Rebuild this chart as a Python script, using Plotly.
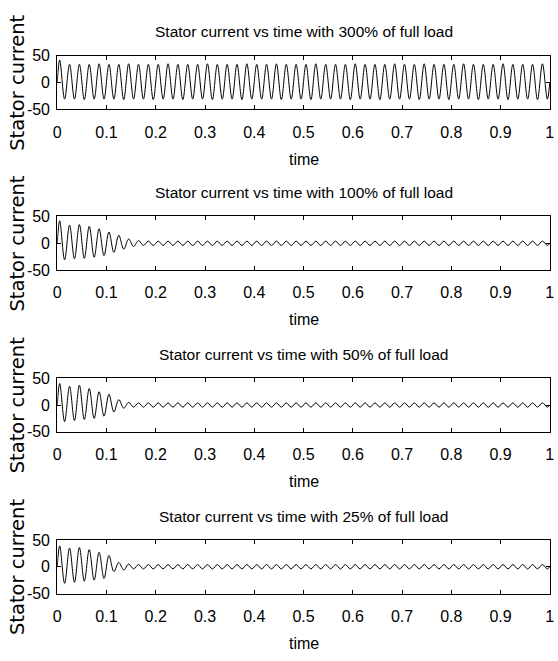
import plotly.graph_objects as go

# ---------------- data ----------------
load_labels = ["300%", "100%", "50%", "25%"]

# half-cycle extreme values of the 50 Hz stator current (one per 0.01 s, at t = 0.005 + 0.01k)
current_300 = [
    42, -31, 34, -31, 34, -32, 34, -31, 35, -31,
    34, -31, 34, -32, 35, -31, 34, -31, 34, -32,
    34, -31, 35, -31, 34, -32, 34, -31, 34, -31,
    35, -32, 34, -31, 34, -31, 34, -32, 35, -31,
    34, -31, 34, -31, 35, -32, 34, -31, 34, -31,
    34, -32, 35, -31, 34, -31, 34, -31, 34, -32,
    35, -31, 34, -31, 34, -32, 34, -31, 35, -31,
    34, -31, 34, -32, 35, -31, 34, -31, 34, -32,
    34, -31, 35, -31, 34, -32, 34, -31, 34, -31,
    35, -32, 34, -31, 34, -31, 34, -32, 35, -31,
]
current_100 = [
    42, -31, 34, -29, 35, -28, 32, -26, 27, -23,
    21, -17, 15, -11, 8, -6, 5, -4, 4, -4,
    4, -4, 4, -4, 4, -4, 4, -4, 4, -4,
    4, -4, 4, -4, 4, -4, 4, -4, 4, -4,
    4, -4, 4, -4, 4, -4, 4, -4, 4, -4,
    4, -4, 4, -4, 4, -4, 4, -4, 4, -4,
    4, -4, 4, -4, 4, -4, 4, -4, 4, -4,
    4, -4, 4, -4, 4, -4, 4, -4, 4, -4,
    4, -4, 4, -4, 4, -4, 4, -4, 4, -4,
    4, -4, 4, -4, 4, -4, 4, -4, 4, -4,
]
current_50 = [
    40, -31, 35, -29, 37, -27, 31, -25, 25, -21,
    20, -13, 10, -6, 5, -4, 4, -4, 4, -4,
    4, -4, 4, -4, 4, -4, 4, -4, 4, -4,
    4, -4, 4, -4, 4, -4, 4, -4, 4, -4,
    4, -4, 4, -4, 4, -4, 4, -4, 4, -4,
    4, -4, 4, -4, 4, -4, 4, -4, 4, -4,
    4, -4, 4, -4, 4, -4, 4, -4, 4, -4,
    4, -4, 4, -4, 4, -4, 4, -4, 4, -4,
    4, -4, 4, -4, 4, -4, 4, -4, 4, -4,
    4, -4, 4, -4, 4, -4, 4, -4, 4, -4,
]
current_25 = [
    39, -31, 35, -29, 36, -27, 32, -25, 27, -22,
    21, -9, 8, -6, 5, -4, 4, -4, 4, -4,
    4, -4, 4, -4, 4, -4, 4, -4, 4, -4,
    4, -4, 4, -4, 4, -4, 4, -4, 4, -4,
    4, -4, 4, -4, 4, -4, 4, -4, 4, -4,
    4, -4, 4, -4, 4, -4, 4, -4, 4, -4,
    4, -4, 4, -4, 4, -4, 4, -4, 4, -4,
    4, -4, 4, -4, 4, -4, 4, -4, 4, -4,
    4, -4, 4, -4, 4, -4, 4, -4, 4, -4,
    4, -4, 4, -4, 4, -4, 4, -4, 4, -4,
]
series = [current_300, current_100, current_50, current_25]

# sample times: start, one sample per half-cycle extreme, end
times = [0.0] + [round(0.005 + 0.01 * k, 3) for k in range(100)] + [1.0]

x_tickvals = [0, 0.1, 0.2, 0.3, 0.4, 0.5, 0.6, 0.7, 0.8, 0.9, 1]
x_ticktext = ["0", "0.1", "0.2", "0.3", "0.4", "0.5", "0.6", "0.7", "0.8", "0.9", "1"]
y_tickvals = [-50, 0, 50]
y_ticktext = ["-50", "0", "50"]

# ---------------- layout ----------------
W, H = 558, 661
plot_left, plot_right = 54, 554
plot_tops = [49, 214, 380, 546]
plot_h = 55

FONT = "Liberation Sans, Arial, sans-serif"

fig = go.Figure()
annotations = []
layout = dict(
    width=W, height=H,
    margin=dict(l=0, r=0, t=0, b=0),
    paper_bgcolor="white", plot_bgcolor="white",
    showlegend=False,
)

for i, vals in enumerate(series):
    n = i + 1
    xa = "x" if n == 1 else f"x{n}"
    ya = "y" if n == 1 else f"y{n}"
    yvals = [0] + vals + [0]
    fig.add_trace(go.Scatter(
        x=times, y=yvals, mode="lines",
        line=dict(color="black", width=1, shape="spline"),
        xaxis=xa, yaxis=ya, hoverinfo="skip",
    ))
    top = plot_tops[i]
    bot = top + plot_h
    y0 = 1 - bot / H
    y1 = 1 - top / H
    common = dict(
        showline=True, linecolor="black", linewidth=1, mirror="ticks",
        ticks="inside", ticklen=4, tickcolor="black", tickwidth=1,
        showgrid=False, zeroline=False,
        tickfont=dict(family=FONT, size=16, color="black"),
    )
    layout["xaxis" if n == 1 else f"xaxis{n}"] = dict(
        domain=[plot_left / W, plot_right / W], range=[0, 1.0005],
        tickvals=x_tickvals, ticktext=x_ticktext, ticklabeloverflow="allow",
        anchor=ya, ticklabelstandoff=8, **common,
    )
    layout["yaxis" if n == 1 else f"yaxis{n}"] = dict(
        domain=[y0, y1], range=[-50, 50],
        tickvals=y_tickvals, ticktext=y_ticktext,
        anchor=xa, ticklabelstandoff=3, **common,
    )
    cx = (plot_left + plot_right) / 2 / W
    # subplot title
    annotations.append(dict(
        text=f"Stator current vs time with {load_labels[i]} of full load",
        x=cx, y=1 - (top - 24.5) / H, xref="paper", yref="paper",
        xanchor="center", yanchor="middle", showarrow=False,
        font=dict(family=FONT, size=15.5, color="black"),
    ))
    # x-axis title
    annotations.append(dict(
        text="time",
        x=cx, y=1 - (bot + 51) / H, xref="paper", yref="paper",
        xanchor="center", yanchor="middle", showarrow=False,
        font=dict(family=FONT, size=16, color="black"),
    ))
    # y-axis title
    annotations.append(dict(
        text="Stator current",
        x=13.5 / W, y=1 - (top + plot_h / 2) / H, xref="paper", yref="paper",
        xanchor="center", yanchor="middle", showarrow=False, textangle=-90,
        font=dict(family="DejaVu Sans, sans-serif", size=19.5, color="black"),
    ))

layout["annotations"] = annotations
fig.update_layout(**layout)
fig.write_html("out.html")
